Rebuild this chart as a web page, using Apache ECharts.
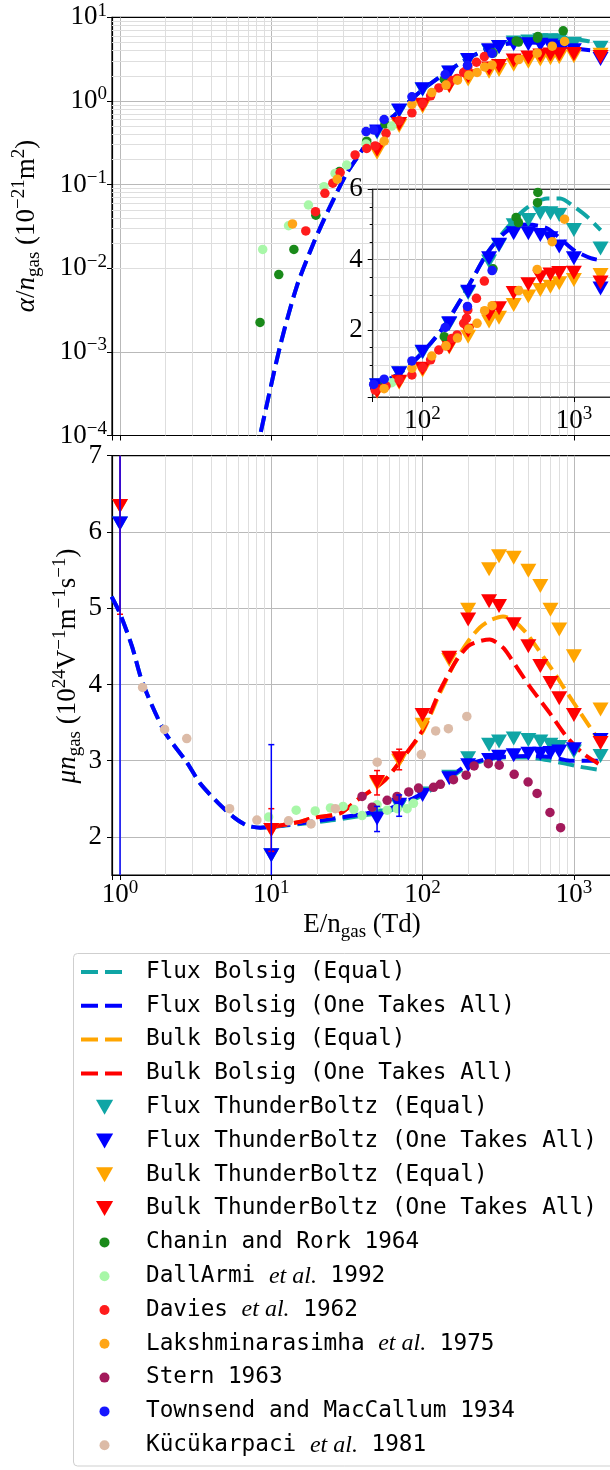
<!DOCTYPE html>
<html><head><meta charset="utf-8">
<script src="https://cdn.jsdelivr.net/npm/echarts@6/dist/echarts.min.js"></script>
<style>html,body{margin:0;padding:0;background:#fff}#c{width:610px;height:1470px}</style>
</head><body><div id="c"></div><script>
// ---------------- DATA ----------------
// Series names (legend order)
const lineNames = ['Flux Bolsig (Equal)','Flux Bolsig (One Takes All)','Bulk Bolsig (Equal)','Bulk Bolsig (One Takes All)'];
const triNames = ['Flux ThunderBoltz (Equal)','Flux ThunderBoltz (One Takes All)','Bulk ThunderBoltz (Equal)','Bulk ThunderBoltz (One Takes All)'];
const dotNames = ['Chanin and Rork 1964','DallArmi et al. 1992','Davies et al. 1962','Lakshminarasimha et al. 1975','Stern 1963','Townsend and MacCallum 1934','Kücükarpaci et al. 1981'];

// Ionisation coefficient alpha/n_gas (1e-21 m^2) vs E/n (Td)
const fluxBolsigEqualAlpha = [[7.9,6e-5],[8.42,1e-4],[11.4,1.15e-3],[14.7,6.0e-3],[19,0.0199],[24.4,0.0543],[31.5,0.136],[38.6,0.237],[47.5,0.41],[55,0.52],[70,0.76],[87,1.1],[107,1.5],[138,2.09],[178,2.85],[218,3.52],[267,4.18],[327,4.68],[401,5.12],[460,5.38],[543,5.6],[665,5.74],[813,5.74],[1000,5.51],[1225,5.22],[1503,4.84]];
const fluxBolsigOtaAlpha = [[7.9,6e-5],[8.42,1e-4],[11.4,1.15e-3],[14.7,6.0e-3],[19,0.0199],[24.4,0.0543],[31.5,0.136],[38.6,0.237],[47.5,0.41],[55,0.52],[70,0.76],[87,1.1],[107,1.5],[138,2.09],[178,2.85],[218,3.52],[267,4.18],[327,4.65],[401,4.94],[500,5.0],[665,4.89],[813,4.6],[1000,4.27],[1290,4.04],[1466,3.99]];
const triEnergyAlpha = [50,70,100,150,200,275,320,400,500,600,700,800,1000,1500];
const fluxTbEqualAlpha = [0.42,0.76,1.36,2.17,3.05,3.95,4.40,4.98,5.13,5.32,5.32,5.27,4.84,4.32];
const fluxTbOtaAlpha   = [0.43,0.77,1.38,2.19,3.09,4.04,4.42,4.75,4.75,4.70,4.61,4.37,4.04,3.18];
const bulkTbEqualAlpha = [0.24,0.50,0.85,1.50,1.81,2.24,2.35,2.71,2.95,3.14,3.23,3.33,3.42,3.56];
const bulkTbOtaAlpha   = [0.26,0.53,0.90,1.52,1.98,2.45,2.62,3.05,3.30,3.50,3.58,3.62,3.63,3.35];
const chaninAlpha = [[8.42,2.25e-3],[11.2,8.4e-3],[14.1,0.0168],[19.7,0.043],[28.2,0.143],[42.7,0.33],[56.4,0.53],[139,1.81],[292,3.74],[415,5.2],[430,5.05],[575,5.62],[578,5.91],[850,6.9]];
const dallArmiAlpha = [[8.77,0.0168],[13.0,0.0322],[17.6,0.057],[22.3,0.0944],[26.4,0.136],[31.5,0.171],[42.3,0.305],[62.5,0.5]];
const daviesAlpha = [[16.9,0.0279],[19.6,0.0474],[22.6,0.0787],[25.5,0.104],[28.5,0.139],[35.8,0.226],[42.7,0.27],[48.6,0.29],[57.3,0.41],[70,0.58],[85,0.72],[100,0.93],[113,1.15],[128,1.43],[143,1.55],[156,1.76],[169,1.86],[187,2.19],[195,2.33],[199,2.57],[227,2.9],[256,3.39]];
const lakshAlpha = [[13.8,0.0338],[27.3,0.116],[55.7,0.33],[85,0.91],[115,1.26],[143,1.55],[170,1.77],[202,2.03],[229,2.19],[257,2.55],[288,2.69],[432,3.12],[572,3.72],[719,4.51],[867,5.15]];
const townsendAlpha = [[42.3,0.43],[47.5,0.45],[55.7,0.6],[85,1.12],[141,2.07],[198,2.67],[288,3.69]];

// Mobility mu*n_gas (1e24 V^-1 m^-1 s^-1) vs E/n (Td)
const fluxBolsigOtaMu = [[0.88,5.15],[1.0,4.93],[1.2,4.5],[1.41,4.02],[1.97,3.38],[2.76,2.98],[3.39,2.7],[4.48,2.44],[5.63,2.26],[6.9,2.15],[8.45,2.12],[10,2.13],[15.6,2.18],[25.9,2.24],[43,2.31],[58,2.36],[75,2.45],[100,2.57],[150,2.78],[196,2.94],[278,3.03],[350,3.05],[500,3.06],[700,3.05],[940,3.0],[1260,3.0],[1450,3.0]];
const fluxBolsigEqualMu = [[0.88,5.15],[1.0,4.93],[1.2,4.5],[1.41,4.02],[1.97,3.38],[2.76,2.98],[3.39,2.7],[4.48,2.44],[5.63,2.26],[6.9,2.15],[8.45,2.12],[10,2.13],[15.6,2.17],[25.9,2.22],[43,2.29],[58,2.33],[75,2.42],[100,2.55],[150,2.76],[196,2.92],[278,3.02],[350,3.04],[500,3.04],[700,3.0],[1100,2.92],[1454,2.88]];
const bulkBolsigEqualMu = [[10,2.13],[15.6,2.2],[19,2.25],[28.6,2.31],[37.9,2.5],[50,2.66],[58,2.77],[75,3.05],[100,3.38],[131,3.9],[168,4.33],[206,4.6],[240,4.75],[279,4.84],[340,4.89],[397,4.84],[487,4.67],[628,4.36],[762,4.12],[849,3.97],[1036,3.71],[1277,3.44],[1490,3.25]];
const bulkBolsigOtaMu = [[10,2.13],[15.6,2.2],[19,2.25],[28.6,2.31],[37.9,2.5],[50,2.66],[58,2.77],[75,3.05],[100,3.4],[131,3.93],[168,4.32],[206,4.52],[278,4.59],[341,4.48],[378,4.36],[512,3.97],[695,3.62],[898,3.31],[1154,3.09],[1454,2.96]];
const triEnergyMu = [1,10,50,70,100,150,200,275,320,400,500,600,700,800,1000,1500];
const fluxTbEqualMu = [6.11,1.76,2.28,2.40,2.57,2.79,3.03,3.21,3.25,3.29,3.27,3.25,3.21,3.18,3.12,3.06];
const fluxTbOtaMu   = [6.11,1.76,2.24,2.42,2.55,2.77,2.94,3.01,3.05,3.07,3.09,3.09,3.10,3.12,3.15,3.27];
const bulkTbEqualMu = [6.34,2.09,2.70,3.00,3.47,4.32,4.98,5.51,5.68,5.66,5.49,5.29,4.98,4.72,4.37,3.67];
const bulkTbOtaMu   = [6.34,2.09,2.72,3.03,3.60,4.35,4.85,5.09,5.03,4.79,4.50,4.24,4.02,3.82,3.60,3.23];
// error bars [E, low, high]
const fluxTbOtaMuErr = [[1,0.6,11.6],[10,0.31,3.21],[50,2.07,2.40],[70,2.27,2.55]];
const bulkTbOtaMuErr = [[1,4.92,7.76],[10,1.81,2.37],[50,2.55,2.87],[70,2.88,3.15]];
const kucukMu = [[1.41,3.96],[1.97,3.41],[2.76,3.29],[5.3,2.37],[8.03,2.22],[13,2.21],[18.3,2.17],[26.5,2.37],[50.1,2.98],[98,3.08],[122,3.39],[148,3.42],[196,3.58]];
const dallArmiMu = [[9.6,2.26],[14.6,2.35],[19.5,2.34],[24.6,2.38],[29.8,2.40],[35.1,2.36],[39.8,2.28],[50,2.42],[58.3,2.35],[68,2.37],[79,2.37],[87,2.44]];
const sternMu = [[39.8,2.53],[46.4,2.39],[58.3,2.48],[67.8,2.53],[81,2.59],[94,2.64],[118,2.65],[131,2.69],[160,2.75],[194,2.81],[219,2.93],[272,2.96],[321,2.94],[403,2.82],[498,2.72],[571,2.57],[695,2.32],[817,2.12]];

// ---------------- STYLE ----------------
const SERIF = 'Liberation Serif', MONO = 'DejaVu Sans Mono';
const MAJOR = '#b9b9b9', MINOR = '#dedede';
const C = {teal:'#0fa5a5', blue:'#0000ff', orange:'#ffa500', red:'#ff0000', chanin:'#1a8a1a', dall:'#a8f7a8', davies:'#ff1c1c', laksh:'#ffa516', stern:'#a3195b', townsend:'#1616ff', kucuk:'#dcbba7'};
const TRI = 'path://M0,0L16,0L8,14Z';
const DASH_ICON = 'path://M0,0H17V4H0Z M24,0H41V4H24Z';
const X_MIN = 0.885, X_MAX = 1786, INSET_X_MIN = 46.8;

// minor gridline positions (2..9 per decade)
const minorOf = (decs) => decs.flatMap(d => [2,3,4,5,6,7,8,9].map(k => +(k*d).toPrecision(3)));
const xMinor = minorOf([1,10,100]);
const yMinorTop = minorOf([1e-4,1e-3,1e-2,1e-1,1]);
const insetXMinor = minorOf([10,100]).filter(v => v > INSET_X_MIN);

function pow10Label(v){
  const e = Math.log10(v), r = Math.round(e);
  if (Math.abs(e - r) > 1e-6) return '';
  return '10{sup|' + (r < 0 ? '\u2212' + (-r) : r) + '}';
}
const labelRich = {sup:{fontFamily:SERIF, fontSize:19, lineHeight:19, verticalAlign:'top', color:'#000'}};
const baseLabel = {fontFamily:SERIF, fontSize:27, lineHeight:32, color:'#000'};
const tick = {show:true, length:5, inside:false, lineStyle:{color:'#000', width:1}};

function logX(grid, opts){
  return Object.assign({type:'log', gridIndex:grid, logBase:10, min:X_MIN, max:X_MAX,
    axisLine:{show:true, lineStyle:{color:'#000', width:1.2}}, axisTick:tick,
    axisLabel:Object.assign({show:true, formatter:pow10Label, rich:labelRich, margin:4}, baseLabel),
    splitLine:{show:true, showMinLine:false, showMaxLine:false, lineStyle:{color:MAJOR, width:1}}}, opts||{});
}

function gridHelper(idx, xs, ys, z){
  return {type:'line', name:'grid-helper-'+idx, xAxisIndex:idx, yAxisIndex:idx, data:[], silent:true, z:z,
    markLine:{silent:true, symbol:['none','none'], z:z, animation:false, label:{show:false}, emphasis:{disabled:true},
      lineStyle:{color:MINOR, width:1, type:'solid'},
      data: xs.map(v => ({xAxis:v})).concat(ys.map(v => ({yAxis:v})))}};
}
function lineS(name, data, idx, color, z){
  return {type:'line', name, data, xAxisIndex:idx, yAxisIndex:idx, symbol:'none', showSymbol:false, smooth:0.25,
    lineStyle:{color, width:4, type:[16,7], cap:'butt'}, itemStyle:{color}, z, silent:true, animation:false};
}
function triS(name, E, vals, idx, color, z){
  return {type:'scatter', name, data:E.map((e,i) => [e, vals[i]]), xAxisIndex:idx, yAxisIndex:idx,
    symbol:TRI, symbolSize:[16,14], itemStyle:{color, borderWidth:0, opacity:1}, z, silent:true, animation:false};
}
function dotS(name, data, idx, color, z){
  return {type:'scatter', name, data, xAxisIndex:idx, yAxisIndex:idx, symbol:'circle', symbolSize:9.5,
    itemStyle:{color, borderWidth:0, opacity:1}, z, silent:true, animation:false};
}
function errS(data, color, lw){
  return {type:'custom', name:'err', xAxisIndex:2, yAxisIndex:2, data, z:3, silent:true, animation:false,
    encode:{x:0, y:[1,2]},
    renderItem(params, api){
      const x = api.value(0), lo = api.value(1), hi = api.value(2);
      const p1 = api.coord([x, lo]), p2 = api.coord([x, hi]);
      const cs = params.coordSys, top = cs.y, bot = cs.y + cs.height;
      const cl = v => Math.min(Math.max(v, top), bot);
      const ch = [{type:'line', shape:{x1:p1[0], y1:cl(p1[1]), x2:p2[0], y2:cl(p2[1])}, style:{stroke:color, lineWidth:lw}}];
      [p1, p2].forEach(p => { if (p[1] >= top && p[1] <= bot) ch.push({type:'line', shape:{x1:p[0]-3, y1:p[1], x2:p[0]+3, y2:p[1]}, style:{stroke:color, lineWidth:lw}}); });
      return {type:'group', children:ch};
    }};
}

const series = [];
series.push(gridHelper(0, xMinor, yMinorTop, 1));
series.push(gridHelper(1, insetXMinor, [], 11));
series.push(gridHelper(2, xMinor, [], 1));
// alpha: main (0) and inset (1)
[[0,2],[1,12]].forEach(([g,z]) => {
  series.push(lineS(lineNames[0], fluxBolsigEqualAlpha, g, C.teal, z));
  series.push(lineS(lineNames[1], fluxBolsigOtaAlpha, g, C.blue, z));
  series.push(triS(triNames[0], triEnergyAlpha, fluxTbEqualAlpha, g, C.teal, z));
  series.push(triS(triNames[1], triEnergyAlpha, fluxTbOtaAlpha, g, C.blue, z));
  series.push(triS(triNames[2], triEnergyAlpha, bulkTbEqualAlpha, g, C.orange, z));
  series.push(triS(triNames[3], triEnergyAlpha, bulkTbOtaAlpha, g, C.red, z));
  series.push(dotS(dotNames[0], chaninAlpha, g, C.chanin, z));
  series.push(dotS(dotNames[1], dallArmiAlpha, g, C.dall, z));
  series.push(dotS(dotNames[2], daviesAlpha, g, C.davies, z));
  series.push(dotS(dotNames[3], lakshAlpha, g, C.laksh, z));
  series.push(dotS(dotNames[5], townsendAlpha, g, C.townsend, z));
});
// mobility (2)
series.push(lineS(lineNames[0], fluxBolsigEqualMu, 2, C.teal, 2));
series.push(lineS(lineNames[1], fluxBolsigOtaMu, 2, C.blue, 2));
series.push(lineS(lineNames[2], bulkBolsigEqualMu, 2, C.orange, 2));
series.push(lineS(lineNames[3], bulkBolsigOtaMu, 2, C.red, 2));
series.push(triS(triNames[0], triEnergyMu, fluxTbEqualMu, 2, C.teal, 2));
series.push(triS(triNames[1], triEnergyMu, fluxTbOtaMu, 2, C.blue, 2));
series.push(triS(triNames[2], triEnergyMu, bulkTbEqualMu, 2, C.orange, 2));
series.push(triS(triNames[3], triEnergyMu, bulkTbOtaMu, 2, C.red, 2));
series.push(errS(bulkTbOtaMuErr, C.red, 1.5));
series.push(errS(fluxTbOtaMuErr, C.blue, 1.5));
series.push(dotS(dotNames[1], dallArmiMu, 2, C.dall, 2));
series.push(dotS(dotNames[4], sternMu, 2, C.stern, 2));
series.push(dotS(dotNames[6], kucukMu, 2, C.kucuk, 2));

const legendText = {fontFamily:MONO, fontSize:22.7, color:'#000', lineHeight:26,
  rich:{p:{width:19, lineHeight:26}, q:{width:16, lineHeight:26}, it:{fontFamily:SERIF, fontStyle:'italic', fontSize:24, lineHeight:26, color:'#000'}}};
const fmt = sp => name => '{' + sp + '| }' + name.replace('et al.', '{it|et al.}');
const ITEM_Y0 = 972, ITEM_DY = 33.8;
const legendCommon = {orient:'vertical', padding:0, itemGap:ITEM_DY-26, selectedMode:false, itemWidth:41, textStyle:legendText, itemStyle:{borderWidth:0}};

const option = {
  animation:false,
  backgroundColor:'#fff',
  textStyle:{fontFamily:SERIF},
  grid:[
    {left:112, top:17.3, width:500, height:418.2, show:true, borderColor:'#000', borderWidth:1.2, backgroundColor:'transparent', outerBoundsMode:'none', containLabel:false},
    {left:372.7, top:189.3, width:239.3, height:207.7, show:true, borderColor:'#333', borderWidth:1.2, backgroundColor:'#fff', z:10, outerBoundsMode:'none', containLabel:false},
    {left:112, top:455.7, width:500, height:419.3, show:true, borderColor:'#000', borderWidth:1.2, backgroundColor:'transparent', outerBoundsMode:'none', containLabel:false}
  ],
  xAxis:[
    logX(0, {axisLabel:{show:false}}),
    logX(1, {min:INSET_X_MIN, z:11, axisLine:{show:true, lineStyle:{color:'#333', width:1.2}}, axisLabel:Object.assign({show:true, formatter:pow10Label, rich:labelRich, margin:7.5}, baseLabel)}),
    logX(2)
  ],
  yAxis:[
    {type:'log', gridIndex:0, logBase:10, min:1e-4, max:10, axisLine:{show:true, lineStyle:{color:'#000', width:1.2}}, axisTick:tick,
     axisLabel:Object.assign({formatter:pow10Label, rich:labelRich, margin:5}, baseLabel),
     splitLine:{show:true, showMinLine:false, showMaxLine:false, lineStyle:{color:MAJOR, width:1}}},
    {type:'value', gridIndex:1, min:0.094, max:6, minInterval:2, maxInterval:2, z:11,
     axisLine:{show:true, lineStyle:{color:'#333', width:1.2}}, axisTick:tick,
     axisLabel:Object.assign({showMinLabel:false, margin:10}, baseLabel),
     minorTick:{show:true, splitNumber:4, length:3, lineStyle:{color:'#000'}},
     minorSplitLine:{show:true, lineStyle:{color:MINOR, width:1}},
     splitLine:{show:true, showMinLine:false, showMaxLine:false, lineStyle:{color:MAJOR, width:1}}},
    {type:'value', gridIndex:2, min:1.5, max:7, minInterval:1, maxInterval:1,
     axisLine:{show:true, lineStyle:{color:'#000', width:1.2}}, axisTick:tick,
     axisLabel:Object.assign({showMinLabel:false, margin:10}, baseLabel),
     splitLine:{show:true, showMinLine:false, showMaxLine:false, lineStyle:{color:MAJOR, width:1}}}
  ],
  legend:[
    Object.assign({}, legendCommon, {left:81, top:ITEM_Y0-13, itemHeight:10, formatter:fmt('p'),
      data:lineNames.map(n => ({name:n, icon:DASH_ICON}))}),
    Object.assign({}, legendCommon, {left:96, top:ITEM_Y0+4*ITEM_DY-13, itemHeight:15, formatter:fmt('q'),
      data:triNames.map(n => ({name:n, icon:TRI}))}),
    Object.assign({}, legendCommon, {left:99.5, top:ITEM_Y0+8*ITEM_DY-13, itemHeight:10, formatter:fmt('q'),
      data:dotNames.map(n => ({name:n, icon:'circle'}))})
  ],
  graphic:[
    {type:'rect', z:0, silent:true, shape:{x:73.5, y:953.5, width:560, height:512.5, r:4}, style:{fill:'#fff', stroke:'#cfcfcf', lineWidth:1}},
    {type:'text', z:5, x:27, y:226, rotation:Math.PI/2, silent:true,
     style:{text:'{i|α}/{i|n}{sub|gas} (10{sup|\u221221}m{sup|2})', fill:'#000', fontFamily:SERIF, fontSize:27, lineHeight:34, align:'center', verticalAlign:'middle',
       rich:{i:{fontFamily:SERIF, fontStyle:'italic', fontSize:27, lineHeight:34}, sub:{fontFamily:SERIF, fontSize:19, lineHeight:19, verticalAlign:'bottom'}, sup:{fontFamily:SERIF, fontSize:19, lineHeight:19, verticalAlign:'top'}}}},
    {type:'text', z:5, x:68, y:666, rotation:Math.PI/2, silent:true,
     style:{text:'{i|μn}{sub|gas} (10{sup|24}V{sup|\u22121}m{sup|\u22121}s{sup|\u22121})', fill:'#000', fontFamily:SERIF, fontSize:27, lineHeight:34, align:'center', verticalAlign:'middle',
       rich:{i:{fontFamily:SERIF, fontStyle:'italic', fontSize:27, lineHeight:34}, sub:{fontFamily:SERIF, fontSize:19, lineHeight:19, verticalAlign:'bottom'}, sup:{fontFamily:SERIF, fontSize:19, lineHeight:19, verticalAlign:'top'}}}},
    {type:'text', z:5, x:362, y:925, silent:true,
     style:{text:'E/n{sub|gas} (Td)', fill:'#000', fontFamily:SERIF, fontSize:27, lineHeight:34, align:'center', verticalAlign:'middle',
       rich:{sub:{fontFamily:SERIF, fontSize:19, lineHeight:19, verticalAlign:'bottom'}}}}
  ],
  series
};
const chart = echarts.init(document.getElementById('c'), null, {renderer:'canvas', width:610, height:1470});
chart.setOption(option);
</script></body></html>
